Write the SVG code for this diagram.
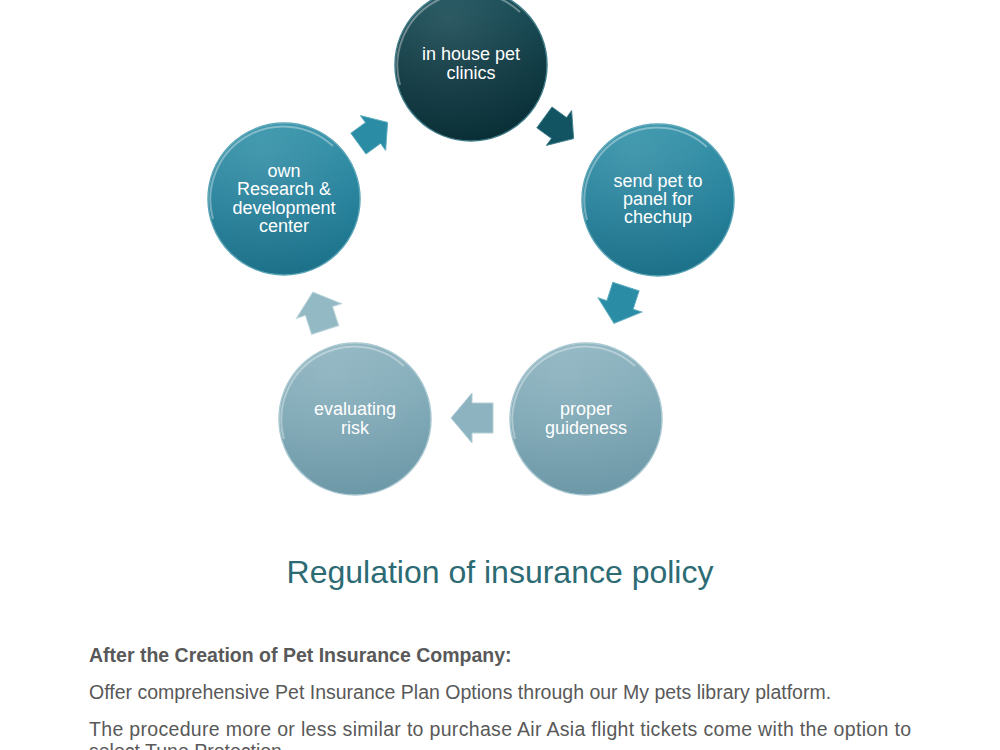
<svg xmlns="http://www.w3.org/2000/svg" width="1000" height="750" viewBox="0 0 1000 750">
<style>
.lbl{font-family:"Liberation Sans",Arial,sans-serif;font-size:18px;fill:#ffffff;text-anchor:middle}
.rim{fill:none;stroke:#ffffff;stroke-width:2;stroke-opacity:0.35}
.title{font-family:"Liberation Sans",Arial,sans-serif;font-size:32px;fill:#2c6b74;text-anchor:middle}
.body{font-family:"Liberation Sans",Arial,sans-serif;font-size:19.5px;fill:#595959}
.bold{font-weight:bold}
</style>
<defs>
<linearGradient id="gDark" x1="0" y1="0" x2="0" y2="1">
<stop offset="0" stop-color="#124a55"/><stop offset="0.5" stop-color="#0d3841"/><stop offset="1" stop-color="#0a2f37"/>
</linearGradient>
<linearGradient id="gMid" x1="0" y1="0" x2="0" y2="1">
<stop offset="0" stop-color="#2f90a7"/><stop offset="0.5" stop-color="#24809a"/><stop offset="1" stop-color="#1d7189"/>
</linearGradient>
<linearGradient id="gLight" x1="0" y1="0" x2="0" y2="1">
<stop offset="0" stop-color="#8ab2bf"/><stop offset="0.5" stop-color="#7ca6b4"/><stop offset="1" stop-color="#6d98a7"/>
</linearGradient>
<radialGradient id="shine" cx="0.35" cy="0.2" r="0.8">
<stop offset="0" stop-color="#ffffff" stop-opacity="0.12"/><stop offset="1" stop-color="#ffffff" stop-opacity="0"/>
</radialGradient>
<path id="arr" d="M-21,-15 L0,-15 L0,-25 L21,0 L0,25 L0,15 L-21,15 Z"/>
</defs>
<rect width="1000" height="750" fill="#ffffff"/>

<g id="connectors">
<use href="#arr" transform="translate(559,128) rotate(36) scale(0.86)" fill="#135462" stroke="#3e7f8c" stroke-width="1"/>
<use href="#arr" transform="translate(620,305) rotate(108) scale(0.92)" fill="#2b8ca5" stroke="#5aaabd" stroke-width="1"/>
<use href="#arr" transform="translate(472,418) rotate(180)" fill="#8cb3bf" stroke="#b4d0d8" stroke-width="1"/>
<use href="#arr" transform="translate(319,311) rotate(-108) scale(0.95)" fill="#93b9c5" stroke="#bcd5dc" stroke-width="1"/>
<use href="#arr" transform="translate(373,133) rotate(-36) scale(0.86)" fill="#2b8ca5" stroke="#5aaabd" stroke-width="1"/>
</g>

<g id="node-clinics">
<circle cx="471" cy="65" r="76" fill="url(#gDark)" stroke="#3f7c88" stroke-width="1.5"/>
<circle cx="471" cy="65" r="76" fill="url(#shine)"/>
<path class="rim" d="M400,85 A73,73 0 0 1 520,12"/>
<text class="lbl" x="471" y="60">in house pet</text>
<text class="lbl" x="471" y="79">clinics</text>
</g>

<g id="node-checkup">
<circle cx="658" cy="200" r="76" fill="url(#gMid)" stroke="#5aa5b7" stroke-width="1.5"/>
<circle cx="658" cy="200" r="76" fill="url(#shine)"/>
<path class="rim" d="M587,220 A73,73 0 0 1 707,147"/>
<text class="lbl" x="658" y="187">send pet to</text>
<text class="lbl" x="658" y="205">panel for</text>
<text class="lbl" x="658" y="223">chechup</text>
</g>

<g id="node-guideness">
<circle cx="586" cy="419" r="76" fill="url(#gLight)" stroke="#a9c8d1" stroke-width="1.5"/>
<circle cx="586" cy="419" r="76" fill="url(#shine)"/>
<path class="rim" d="M515,439 A73,73 0 0 1 635,366"/>
<text class="lbl" x="586" y="415">proper</text>
<text class="lbl" x="586" y="434">guideness</text>
</g>

<g id="node-risk">
<circle cx="355" cy="419" r="76" fill="url(#gLight)" stroke="#a9c8d1" stroke-width="1.5"/>
<circle cx="355" cy="419" r="76" fill="url(#shine)"/>
<path class="rim" d="M284,439 A73,73 0 0 1 404,366"/>
<text class="lbl" x="355" y="415">evaluating</text>
<text class="lbl" x="355" y="434">risk</text>
</g>

<g id="node-research">
<circle cx="284" cy="199" r="76" fill="url(#gMid)" stroke="#5aa5b7" stroke-width="1.5"/>
<circle cx="284" cy="199" r="76" fill="url(#shine)"/>
<path class="rim" d="M213,219 A73,73 0 0 1 333,146"/>
<text class="lbl" x="284" y="177">own</text>
<text class="lbl" x="284" y="195">Research &amp;</text>
<text class="lbl" x="284" y="214">development</text>
<text class="lbl" x="284" y="232">center</text>
</g>

<text class="title" x="500" y="583">Regulation of insurance policy</text>

<text class="body bold" x="89" y="662">After the Creation of Pet Insurance Company:</text>
<text class="body" x="89" y="699">Offer comprehensive Pet Insurance Plan Options through our My pets library platform.</text>
<text class="body" x="89" y="736" textLength="822" lengthAdjust="spacing">The procedure more or less similar to purchase Air Asia flight tickets come with the option to</text>
<text class="body" x="89" y="758">select Tune Protection</text>
</svg>
